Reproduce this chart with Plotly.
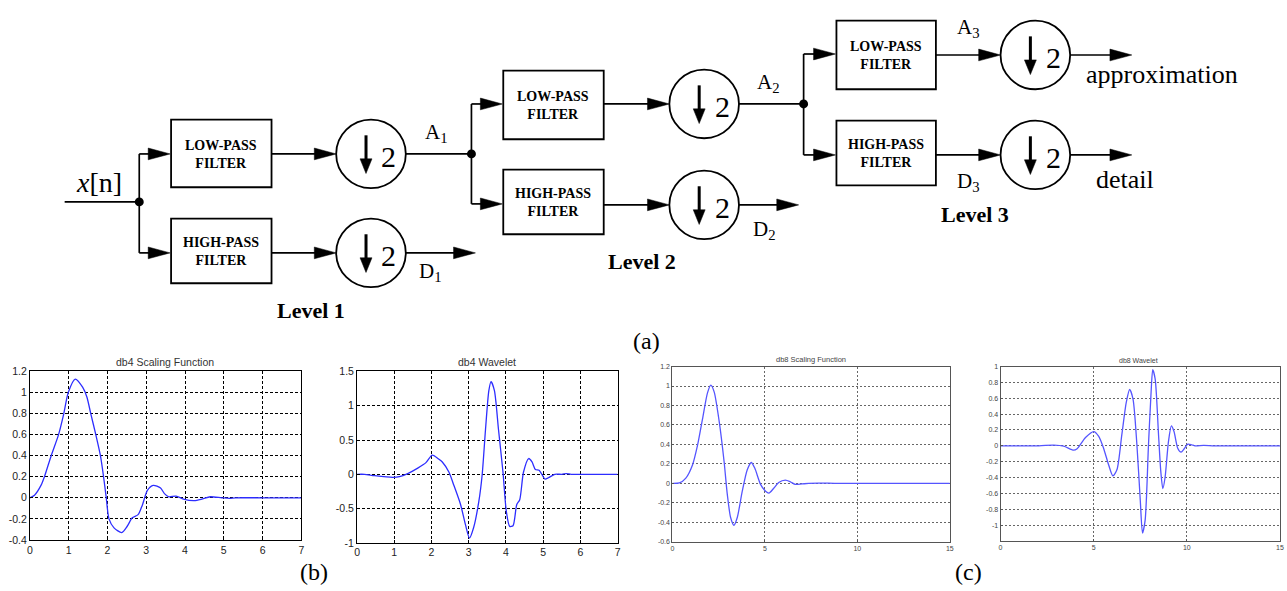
import plotly.graph_objects as go

W, H = 1287, 591

# ---------------- data ----------------
db4_phi_x = [0, 0.12, 0.29, 0.376, 0.55, 0.74, 0.875, 0.99, 1.17, 1.36, 1.47, 1.57, 1.70, 1.82,
             1.90, 1.97, 2.04, 2.17, 2.37, 2.51, 2.64, 2.79, 2.90, 3.03, 3.18, 3.37, 3.47, 3.58,
             3.77, 3.96, 4.24, 4.45, 4.65, 4.95, 5.15, 5.3, 6.0, 7.0]
db4_phi_y = [0, 0.025, 0.12, 0.2, 0.4, 0.6, 0.8, 1.0, 1.127, 1.05, 0.957, 0.8, 0.6, 0.4,
             0.2, 0.0, -0.2, -0.285, -0.33, -0.27, -0.19, -0.16, -0.07, 0.07, 0.118, 0.093, 0.04, 0.01,
             0.016, -0.012, -0.027, -0.01, 0.01, 0.0, -0.005, 0, 0, 0]

db4_psi_x = [0, 0.2, 0.47, 0.96, 1.14, 1.36, 1.63, 1.85, 2.02, 2.2, 2.29, 2.47, 2.60, 2.78, 2.91,
             3.02, 3.13, 3.27, 3.36, 3.45, 3.54, 3.60, 3.69, 3.80, 3.92, 4.01, 4.10, 4.19, 4.29,
             4.37, 4.47, 4.61, 4.70, 4.79, 4.89, 5.05, 5.14, 5.31, 5.5, 5.62, 5.75, 6.2, 7.0]
db4_psi_y = [0, 0, -0.02, -0.045, -0.035, 0.01, 0.09, 0.17, 0.28, 0.22, 0.18, 0.03, -0.16, -0.44, -0.73,
             -0.93, -0.78, -0.40, -0.01, 0.65, 1.22, 1.35, 1.22, 0.65, 0.03, -0.54, -0.76, -0.75, -0.44,
             -0.37, 0.03, 0.23, 0.18, 0.07, 0.06, -0.07, -0.05, 0.0, 0.0, 0.01, 0, 0, 0]

db8_phi_x = [0, 0.38, 0.73, 1.09, 1.36, 1.63, 1.9, 2.08, 2.26, 2.53, 2.8, 2.97, 3.15, 3.33, 3.51,
             3.78, 4.05, 4.27, 4.46, 4.77, 5.04, 5.22, 5.48, 5.75, 6.11, 6.38, 6.65, 7.01, 7.37,
             7.9, 9, 15]
db8_phi_y = [0, 0.005, 0.055, 0.19, 0.39, 0.66, 0.93, 1.01, 0.94, 0.64, 0.22, -0.11, -0.35, -0.43, -0.35,
             -0.08, 0.14, 0.215, 0.155, -0.01, -0.08, -0.10, -0.05, 0.01, 0.034, 0.017, -0.01, -0.005, 0,
             0.004, 0, 0]

db8_psi_x = [0, 2.05, 2.85, 3.39, 3.92, 4.11, 4.56, 5.0, 5.27, 5.53, 5.8, 6.03, 6.25, 6.51, 6.75,
             6.93, 7.11, 7.32, 7.5, 7.62, 7.76, 7.94, 8.07, 8.17, 8.3, 8.48, 8.6, 8.71, 8.83, 9.01,
             9.17, 9.31, 9.51, 9.69, 9.85, 10.05, 10.26, 10.44, 10.9, 11.5, 15]
db8_psi_y = [0, 0, 0.008, -0.005, -0.055, -0.037, 0.105, 0.18, 0.12, -0.03, -0.24, -0.38, -0.30, 0.14, 0.55,
             0.71, 0.59, 0.01, -0.69, -1.10, -0.94, 0.01, 0.63, 0.96, 0.84, 0.14, -0.32, -0.54, -0.40, 0.05,
             0.25, 0.18, -0.03, -0.08, -0.04, 0.02, 0.012, 0, 0.005, 0, 0]

plot_titles = ["db4 Scaling Function", "db4 Wavelet", "db8 Scaling Function", "db8 Wavelet"]

db4_xticks = [0, 1, 2, 3, 4, 5, 6, 7]
db8_xticks = [0, 5, 10, 15]
phi4_yticks = [-0.4, -0.2, 0, 0.2, 0.4, 0.6, 0.8, 1, 1.2]
phi4_ylabels = ["-0.4", "-0.2", "0", "0.2", "0.4", "0.6", "0.8", "1", "1.2"]
psi4_yticks = [-1, -0.5, 0, 0.5, 1, 1.5]
psi4_ylabels = ["-1", "-0.5", "0", "0.5", "1", "1.5"]
phi8_yticks = [-0.6, -0.4, -0.2, 0, 0.2, 0.4, 0.6, 0.8, 1, 1.2]
phi8_ylabels = ["-0.6", "-0.4", "-0.2", "0", "0.2", "0.4", "0.6", "0.8", "1", "1.2"]
psi8_yticks = [-1, -0.8, -0.6, -0.4, -0.2, 0, 0.2, 0.4, 0.6, 0.8, 1]
psi8_ylabels = ["-1", "-0.8", "-0.6", "-0.4", "-0.2", "0", "0.2", "0.4", "0.6", "0.8", "1"]

# ---------------- helpers (pixel -> paper) ----------------
def px(x):
    return x / W

def py(y):
    return 1 - y / H

shapes = []
annotations = []
SERIF = "Liberation Serif"
SANS = "Liberation Sans"


def line(x0, y0, x1, y1, w=1.7):
    shapes.append(dict(type="line", xref="paper", yref="paper", x0=px(x0), y0=py(y0),
                       x1=px(x1), y1=py(y1), line=dict(color="black", width=w)))


def poly(points):
    path = "M " + " L ".join(f"{px(x):.6f},{py(y):.6f}" for x, y in points) + " Z"
    shapes.append(dict(type="path", xref="paper", yref="paper", path=path,
                       fillcolor="black", line=dict(color="black", width=0.5)))


def harrow(x0, x1, y):
    line(x0, y, x1 - 18, y)
    poly([(x1 - 22, y - 6), (x1, y), (x1 - 22, y + 6)])


def txt(x, y, text, size, family=SERIF, color="black", xanchor="center"):
    annotations.append(dict(x=px(x), y=py(y), xref="paper", yref="paper", text=text,
                            showarrow=False, xanchor=xanchor, yanchor="middle",
                            font=dict(family=family, size=size, color=color)))


def box(x0, y0, x1, y1, label):
    shapes.append(dict(type="rect", xref="paper", yref="paper", x0=px(x0), y0=py(y0),
                       x1=px(x1), y1=py(y1), line=dict(color="black", width=1.8)))
    txt((x0 + x1) / 2, (y0 + y1) / 2 + 1, "<b>" + label + "<br>FILTER</b>", 14)


def dsamp(cx, cy, r=35):
    shapes.append(dict(type="circle", xref="paper", yref="paper", x0=px(cx - r), y0=py(cy + r),
                       x1=px(cx + r), y1=py(cy - r), line=dict(color="black", width=1.8)))
    line(cx - 5, cy - 19, cx - 5, cy + 8, w=3)
    poly([(cx - 11, cy + 5), (cx + 1, cy + 5), (cx - 5, cy + 20)])
    txt(cx + 18, cy + 3, "2", 30)


def dot(cx, cy, r=4.5):
    shapes.append(dict(type="circle", xref="paper", yref="paper", x0=px(cx - r), y0=py(cy + r),
                       x1=px(cx + r), y1=py(cy - r), fillcolor="black", line=dict(color="black", width=0)))


# ---------------- block diagram ----------------
# Level 1
line(62, 200, 137, 200)
line(137, 151, 137, 252)
dot(137, 200)
txt(97, 180, "<i>x</i>[n]", 28)
harrow(137, 168, 151)
harrow(137, 168, 252)
box(169, 116, 270, 185, "LOW-PASS")
box(169, 217, 270, 283, "HIGH-PASS")
harrow(270, 335, 151)
harrow(270, 335, 252)
dsamp(370, 151)
dsamp(370, 252)
line(405, 151, 471, 151)
harrow(405, 475, 252)
txt(436, 130, "A<sub>1</sub>", 21)
txt(430, 272, "D<sub>1</sub>", 21)
txt(310, 311, "<b>Level 1</b>", 22)

# Level 2
dot(471, 151)
line(471, 100, 471, 202)
harrow(471, 502, 100)
harrow(471, 502, 202)
box(503, 66, 604, 136, "LOW-PASS")
box(503, 167, 604, 233, "HIGH-PASS")
harrow(604, 670, 100)
harrow(604, 670, 203)
dsamp(705, 100)
dsamp(705, 203)
line(740, 100, 805, 100)
harrow(740, 800, 203)
txt(770, 79, "A<sub>2</sub>", 21)
txt(766, 229, "D<sub>2</sub>", 21)
txt(642, 261, "<b>Level 2</b>", 22)

# Level 3
dot(805, 100)
line(805, 49, 805, 152)
harrow(805, 837, 49)
harrow(805, 837, 152)
box(838, 15, 938, 85, "LOW-PASS")
box(838, 117, 938, 183, "HIGH-PASS")
harrow(938, 1003, 50)
harrow(938, 1003, 152)
dsamp(1038, 50)
dsamp(1038, 152)
harrow(1073, 1135, 50)
harrow(1073, 1135, 152)
txt(971, 22, "A<sub>3</sub>", 21)
txt(971, 180, "D<sub>3</sub>", 21)
txt(1087, 70, "approximation", 26, xanchor="left")
txt(1097, 177, "detail", 26, xanchor="left")
txt(977, 213, "<b>Level 3</b>", 22)

# panel labels
txt(647, 342, "(a)", 24)
txt(313, 578, "(b)", 24)
txt(971, 578, "(c)", 24)

# plot titles
txt(163, 363, plot_titles[0], 10.5, family=SANS, color="#333")
txt(487, 363, plot_titles[1], 10.5, family=SANS, color="#333")
txt(812, 361, plot_titles[2], 7.5, family=SANS, color="#444")
txt(1142, 362, plot_titles[3], 7, family=SANS, color="#444")

# ---------------- wavelet plots ----------------
fig = go.Figure()
curves = [
    (db4_phi_x, db4_phi_y, "x", "y", "rgb(45,45,255)"),
    (db4_psi_x, db4_psi_y, "x2", "y2", "rgb(45,45,255)"),
    (db8_phi_x, db8_phi_y, "x3", "y3", "rgb(85,85,255)"),
    (db8_psi_x, db8_psi_y, "x4", "y4", "rgb(85,85,255)"),
]
for xs, ys, xa, ya, col in curves:
    fig.add_trace(go.Scatter(x=xs, y=ys, xaxis=xa, yaxis=ya, mode="lines",
                             line=dict(color=col, width=1.3, shape="spline", smoothing=0.7),
                             showlegend=False, hoverinfo="skip"))


def ax(domain, rng, tickvals, ticktext, anchor, big=True):
    if big:
        return dict(domain=domain, range=rng, anchor=anchor, tickvals=tickvals, ticktext=ticktext,
                    showgrid=True, gridcolor="black", gridwidth=1, griddash="3px,2px",
                    zeroline=False, showline=True, linecolor="black", linewidth=1, mirror=True,
                    ticks="inside", ticklen=3, tickcolor="black",
                    tickfont=dict(family=SANS, size=10.5, color="#222"), fixedrange=True)
    return dict(domain=domain, range=rng, anchor=anchor, tickvals=tickvals, ticktext=ticktext,
                showgrid=True, gridcolor="#666", gridwidth=1, griddash="2px,2px",
                zeroline=False, showline=True, linecolor="#555", linewidth=1, mirror=True,
                ticks="inside", ticklen=2, tickcolor="#555",
                tickfont=dict(family=SANS, size=7, color="#444"), fixedrange=True)


def dx(a, b):
    return [a / W, b / W]


def dy(top, bottom):
    return [1 - bottom / H, 1 - top / H]


layout = dict(
    width=W, height=H, autosize=False,
    margin=dict(l=0, r=0, t=0, b=0, pad=0),
    paper_bgcolor="white", plot_bgcolor="white",
    showlegend=False,
    shapes=shapes, annotations=annotations,
    xaxis=ax(dx(27, 300), [0, 7], db4_xticks, [str(v) for v in db4_xticks], "y"),
    yaxis=ax(dy(373, 545), [-0.4, 1.2], phi4_yticks, phi4_ylabels, "x"),
    xaxis2=ax(dx(356, 618), [0, 7], db4_xticks, [str(v) for v in db4_xticks], "y2"),
    yaxis2=ax(dy(373, 548), [-1, 1.5], psi4_yticks, psi4_ylabels, "x2"),
    xaxis3=ax(dx(673, 952), [0, 15], db8_xticks, [str(v) for v in db8_xticks], "y3", big=False),
    yaxis3=ax(dy(368, 547), [-0.6, 1.2], phi8_yticks, phi8_ylabels, "x3", big=False),
    xaxis4=ax(dx(1003, 1284), [0, 15], db8_xticks, [str(v) for v in db8_xticks], "y4", big=False),
    yaxis4=ax(dy(368, 546), [-1.2, 1], psi8_yticks, psi8_ylabels, "x4", big=False),
)
fig.update_layout(**layout)
fig.write_html("out.html")
